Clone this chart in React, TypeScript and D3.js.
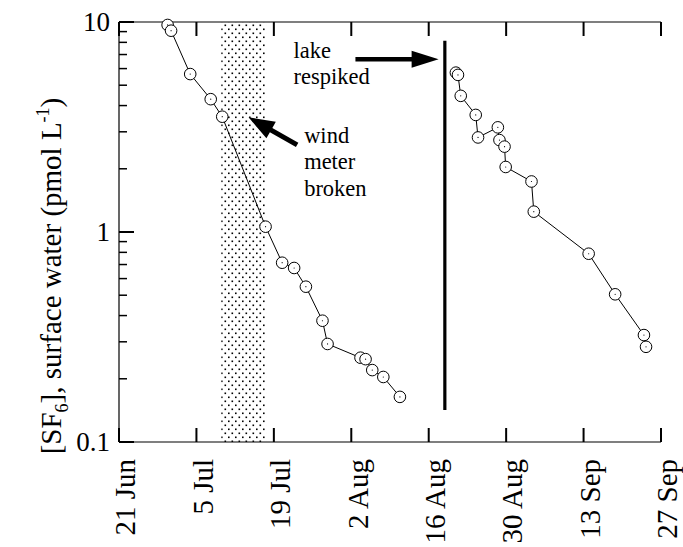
import React from 'react';
import * as d3 from 'd3';

// SF6 in surface water, two injection periods
const period1Dates = [
  '1997-06-29T19', '1997-06-30T10', '1997-07-03T21', '1997-07-07T14', '1997-07-09T16',
  '1997-07-17T12', '1997-07-20T12', '1997-07-22T16', '1997-07-24T19', '1997-07-27T19',
  '1997-07-28T17', '1997-08-03T16', '1997-08-04T14', '1997-08-05T19', '1997-08-07T19',
  '1997-08-10T19',
];
const period1Values = [
  9.68, 9.09, 5.65, 4.29, 3.54, 1.06, 0.714, 0.674, 0.549, 0.378, 0.293, 0.252, 0.248,
  0.22, 0.204, 0.164,
];
const period2Dates = [
  '1997-08-20T22', '1997-08-21T07', '1997-08-21T19', '1997-08-24T12', '1997-08-24T22',
  '1997-08-28T12', '1997-08-28T19', '1997-08-29T17', '1997-08-29T22', '1997-09-03T14',
  '1997-09-04T00', '1997-09-13T22', '1997-09-18T17', '1997-09-23T22', '1997-09-24T07',
];
const period2Values = [
  5.74, 5.6, 4.45, 3.61, 2.82, 3.15, 2.74, 2.55, 2.04, 1.74, 1.25, 0.788, 0.505, 0.323,
  0.284,
];

const xTickDates = [
  '1997-06-21T00', '1997-07-05T00', '1997-07-19T00', '1997-08-02T00',
  '1997-08-16T00', '1997-08-30T00', '1997-09-13T00', '1997-09-27T00',
];
const yMajorTicks = [0.1, 1, 10];
const yTickLabels = ['0.1', '1', '10'];

// annotations (data coordinates)
const brokenWindow = ['1997-07-09T12', '1997-07-17T14'];
const respikeDate = '1997-08-18T22';
const respikeRange = [0.142, 8.15];
const lakeArrow = { from: '1997-08-02T18', to: '1997-08-17T19', value: 6.64 };
const windArrow = { fromDate: '1997-07-23T05', fromValue: 2.6, toDate: '1997-07-14T10', toValue: 3.52 };

const parse = d3.timeParse('%Y-%m-%dT%H');
const fmt = d3.timeFormat('%-d %b');
const FONT = '"Liberation Serif", "Times New Roman", serif';

const margin = { top: 22, right: 22, bottom: 105, left: 119 };
const W = 683;
const H = 547;

function arrowPath(x1: number, y1: number, x2: number, y2: number, headLen: number, headHalf: number, shaft: number) {
  const dx = x2 - x1;
  const dy = y2 - y1;
  const len = Math.sqrt(dx * dx + dy * dy);
  const ux = dx / len;
  const uy = dy / len;
  const px = -uy;
  const py = ux;
  const bx = x2 - ux * headLen;
  const by = y2 - uy * headLen;
  const s = shaft / 2;
  const pts = [
    [x1 + px * s, y1 + py * s],
    [bx + px * s, by + py * s],
    [bx + px * headHalf, by + py * headHalf],
    [x2, y2],
    [bx - px * headHalf, by - py * headHalf],
    [bx - px * s, by - py * s],
    [x1 - px * s, y1 - py * s],
  ];
  return 'M' + pts.map((p) => p.join(',')).join('L') + 'Z';
}

export default function App() {
  const x = d3
    .scaleTime()
    .domain([parse(xTickDates[0])!, parse(xTickDates[xTickDates.length - 1])!])
    .range([margin.left, W - margin.right]);
  const y = d3.scaleLog().domain([0.1, 10]).range([H - margin.bottom, margin.top]);

  const x0 = margin.left;
  const x1 = W - margin.right;
  const y0 = H - margin.bottom;
  const yTop = margin.top;

  const minorTicks: number[] = [];
  [0.1, 1].forEach((d) => {
    for (let k = 2; k <= 9; k++) minorTicks.push(d * k);
  });

  const series = [
    period1Dates.map((d, i) => ({ date: parse(d)!, value: period1Values[i] })),
    period2Dates.map((d, i) => ({ date: parse(d)!, value: period2Values[i] })),
  ];
  const line = d3
    .line<{ date: Date; value: number }>()
    .x((d) => x(d.date))
    .y((d) => y(d.value));

  const bandX0 = x(parse(brokenWindow[0])!);
  const bandX1 = x(parse(brokenWindow[1])!);

  const lakeTailX = x(parse(lakeArrow.from)!);
  const lakeTipX = x(parse(lakeArrow.to)!);
  const lakeY = y(lakeArrow.value);
  const windTailX = x(parse(windArrow.fromDate)!);
  const windTailY = y(windArrow.fromValue);
  const windTipX = x(parse(windArrow.toDate)!);
  const windTipY = y(windArrow.toValue);

  return (
    <svg width={W} height={H} style={{ position: 'absolute', left: 0, top: 0, background: '#fff' }} fontFamily={FONT}>
      <defs>
        <pattern id="dots" width="7" height="8" patternUnits="userSpaceOnUse">
          <rect x="0.5" y="0.5" width="1.6" height="1.6" fill="#000" />
          <rect x="4" y="4.5" width="1.6" height="1.6" fill="#000" />
        </pattern>
      </defs>

      {/* wind meter broken period */}
      <rect x={bandX0} y={yTop} width={bandX1 - bandX0} height={y0 - yTop} fill="url(#dots)" />

      {/* axes */}
      <line x1={x0} x2={x0} y1={yTop} y2={y0} stroke="#000" strokeWidth={1.2} />
      <line x1={x0} x2={x1} y1={y0} y2={y0} stroke="#000" strokeWidth={1.2} />
      <line x1={x0} x2={x1} y1={yTop} y2={yTop} stroke="#000" strokeWidth={1.2} />

      {xTickDates.map((d) => {
        const xp = x(parse(d)!);
        return (
          <g key={d}>
            <line x1={xp} x2={xp} y1={y0} y2={y0 - 14} stroke="#000" strokeWidth={2} />
            <line x1={xp} x2={xp} y1={yTop} y2={yTop + 14} stroke="#000" strokeWidth={2} />
            <text
              transform={`translate(${xp},${y0 + 17}) rotate(-90)`}
              textAnchor="end"
              dy="0.56em"
              fontSize={29}
              fill="#000"
            >
              {fmt(parse(d)!)}
            </text>
          </g>
        );
      })}

      {yMajorTicks.map((v, i) => (
        <g key={v}>
          <line x1={x0} x2={x0 + 15} y1={y(v)} y2={y(v)} stroke="#000" strokeWidth={2} />
          <text x={x0 - 9} y={y(v)} dy="0.35em" textAnchor="end" fontSize={27} fill="#000">
            {yTickLabels[i]}
          </text>
        </g>
      ))}
      {minorTicks.map((v) => (
        <line key={v} x1={x0} x2={x0 + 8} y1={y(v)} y2={y(v)} stroke="#000" strokeWidth={1.5} />
      ))}

      {/* y axis title */}
      <text transform={`translate(61,276) rotate(-90)`} textAnchor="middle" fontSize={29} fill="#000">
        [SF
        <tspan fontSize={18} dy={7}>6</tspan>
        <tspan dy={-7}>], surface water (pmol L</tspan>
        <tspan fontSize={18} dy={-12}>-1</tspan>
        <tspan dy={12}>)</tspan>
      </text>

      {/* respike marker */}
      <line
        x1={x(parse(respikeDate)!)}
        x2={x(parse(respikeDate)!)}
        y1={y(respikeRange[0])}
        y2={y(respikeRange[1])}
        stroke="#000"
        strokeWidth={3.2}
      />

      {/* data */}
      {series.map((s, i) => (
        <g key={i}>
          <path d={line(s) || ''} fill="none" stroke="#000" strokeWidth={1} />
          {s.map((d, j) => (
            <g key={j}>
              <circle cx={x(d.date)} cy={y(d.value)} r={5.8} fill="#fff" stroke="#000" strokeWidth={1} />
              <circle cx={x(d.date)} cy={y(d.value)} r={0.6} fill="#000" />
            </g>
          ))}
        </g>
      ))}

      {/* annotations */}
      <path d={arrowPath(lakeTailX, lakeY, lakeTipX, lakeY, 27, 8.5, 4.5)} fill="#000" />
      <text x={lakeTailX - 62} y={lakeY - 1} fontSize={22.5} fill="#000">lake</text>
      <text x={lakeTailX - 62} y={lakeY + 25} fontSize={22.5} fill="#000">respiked</text>

      <path d={arrowPath(windTailX, windTailY, windTipX, windTipY, 26, 9.5, 5)} fill="#000" />
      <text x={windTailX + 7} y={windTailY - 2} fontSize={22.5} fill="#000">wind</text>
      <text x={windTailX + 7} y={windTailY + 24} fontSize={22.5} fill="#000">meter</text>
      <text x={windTailX + 7} y={windTailY + 51} fontSize={22.5} fill="#000">broken</text>
    </svg>
  );
}
